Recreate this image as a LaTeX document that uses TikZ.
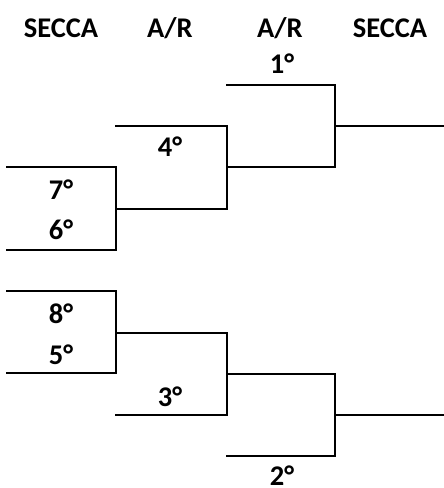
\documentclass[tikz,border=0pt]{standalone}
\usepackage{fontspec}
\setmainfont{Carlito}
\begin{document}
\begin{tikzpicture}[x=1pt,y=-1pt,
  br/.style={line width=2pt,line cap=rect},
  lbl/.style={font=\fontsize{28.5}{32}\selectfont\bfseries,inner sep=0pt,anchor=center}]
\useasboundingbox (0,0) rectangle (444,488);
% headers
\node[lbl] (h1) at (61,28) {SECCA};
\node[lbl] (h2) at (170,28) {A/R};
\node[lbl] (h3) at (280,28) {A/R};
\node[lbl] (h4) at (390,28) {SECCA};
% coordinates
\coordinate (a1) at (7,167);   \coordinate (a2) at (116,167);
\coordinate (a3) at (116,250); \coordinate (a4) at (7,250);
\coordinate (b1) at (116,126); \coordinate (b2) at (227,126);
\coordinate (b3) at (227,209); \coordinate (b4) at (116,209);
\coordinate (c1) at (227,85);  \coordinate (c2) at (335,85);
\coordinate (c3) at (335,167); \coordinate (c4) at (227,167);
\coordinate (c5) at (335,126); \coordinate (c6) at (444,126);
\coordinate (d1) at (7,291);   \coordinate (d2) at (116,291);
\coordinate (d3) at (116,373); \coordinate (d4) at (7,373);
\coordinate (e1) at (116,333); \coordinate (e2) at (227,333);
\coordinate (e3) at (227,415); \coordinate (e4) at (116,415);
\coordinate (f1) at (227,374); \coordinate (f2) at (335,374);
\coordinate (f3) at (335,456); \coordinate (f4) at (227,456);
\coordinate (f5) at (335,415); \coordinate (f6) at (444,415);
% brackets
\draw[br] (a1) -- (a2) -- (a3) -- (a4);
\draw[br] (b1) -- (b2) -- (b3) -- (b4);
\draw[br] (c1) -- (c2) -- (c3) -- (c4);
\draw[br] (c5) -- (c6);
\draw[br] (d1) -- (d2) -- (d3) -- (d4);
\draw[br] (e1) -- (e2) -- (e3) -- (e4);
\draw[br] (f1) -- (f2) -- (f3) -- (f4);
\draw[br] (f5) -- (f6);
% labels
\node[lbl] (l1) at (282,64) {1°};
\node[lbl] (l4) at (170,147) {4°};
\node[lbl] (l7) at (61,190) {7°};
\node[lbl] (l6) at (61,230) {6°};
\node[lbl] (l8) at (61,314) {8°};
\node[lbl] (l5) at (61,355) {5°};
\node[lbl] (l3) at (170,397) {3°};
\node[lbl] (l2) at (282,476) {2°};
\end{tikzpicture}
\end{document}
